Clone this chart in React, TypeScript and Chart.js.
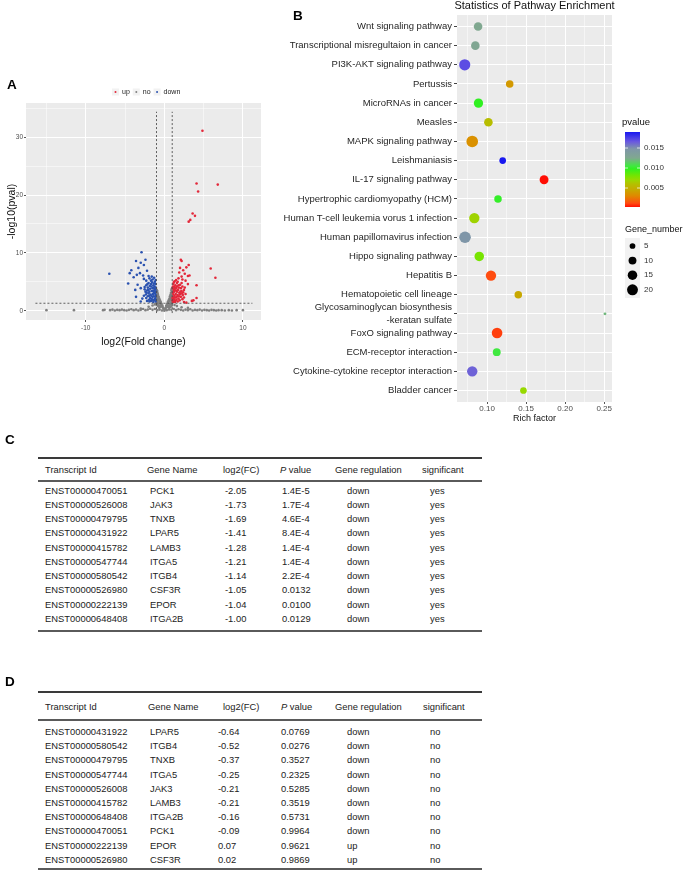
import React, { useEffect, useRef } from 'react';
import { Chart, registerables } from 'chart.js';

Chart.register(...registerables);
const FONT = '"Liberation Sans", Arial, Helvetica, sans-serif';
Chart.defaults.font.family = FONT;

// ---------------- Panel A: volcano plot ----------------
const volcanoGroups = ['up', 'no', 'down'];
const upPoints: [number, number][] = [
  [4.85, 31.1], [4.1, 22.0], [6.8, 21.8], [4.3, 20.6], [3.6, 16.8], [3.9, 16.4], [3.3, 15.7], [3.1, 15.4],
  [5.9, 7.3], [6.5, 5.7], [4.1, 4.4], [2.1, 8.8], [2.2, 8.6], [3.1, 7.9], [2.8, 7.5], [2.0, 7.4], [2.4, 7.0],
  [1.9, 6.6], [2.6, 6.4], [3.0, 6.0], [3.2, 6.1], [2.2, 5.9], [2.7, 5.2], [3.0, 4.6], [4.1, 2.2], [3.7, 1.8],
  [3.5, 1.7], [2.5, 1.5], [2.8, 1.4], [1.1, 1.5], [1.2, 2.0], [1.3, 2.6], [1.1, 3.1], [1.2, 3.6], [1.3, 4.1],
  [1.15, 4.6], [1.4, 1.7], [1.5, 2.3], [1.45, 2.9], [1.6, 3.3], [1.5, 3.9], [1.4, 4.4], [1.6, 4.8], [1.7, 1.6],
  [1.8, 2.1], [1.7, 2.7], [1.9, 3.1], [1.75, 3.6], [1.85, 4.0], [2.0, 4.5], [1.95, 1.8], [2.1, 2.4], [2.0, 2.9],
  [2.2, 3.4], [2.1, 3.9], [2.3, 2.0], [2.35, 2.7], [2.4, 3.2], [2.3, 4.2], [1.25, 1.8], [1.35, 2.3], [1.55, 1.9],
  [1.65, 2.5], [1.25, 3.3], [1.45, 3.5], [1.35, 3.8], [1.6, 4.2], [1.8, 4.4], [1.9, 2.5], [2.05, 3.3], [2.25, 3.0],
  [1.1, 2.4], [1.15, 2.8], [1.2, 4.9], [1.5, 5.3], [1.8, 5.6], [2.3, 5.4], [2.6, 4.0], [2.5, 2.3], [1.05, 1.8],
  [1.08, 3.9], [1.3, 5.1], [1.7, 5.0], [2.5, 3.6], [2.7, 2.9], [2.2, 4.8], [1.05, 2.2], [1.1, 4.2], [1.35, 1.5],
];
const downPoints: [number, number][] = [
  [-2.9, 10.1], [-3.6, 8.6], [-2.4, 8.8], [-3.0, 8.3], [-4.2, 7.0], [-4.4, 6.5], [-7.0, 6.4], [-4.6, 4.7],
  [-3.3, 7.4], [-2.6, 7.9], [-3.5, 6.2], [-3.9, 5.8], [-2.2, 6.9], [-3.1, 6.5], [-2.7, 6.1], [-3.4, 4.5],
  [-3.0, 3.9], [-3.7, 3.6], [-3.6, 2.4], [-3.0, 1.6], [-2.8, 2.1], [-1.1, 1.6], [-1.2, 2.1], [-1.1, 2.7],
  [-1.3, 3.2], [-1.15, 3.7], [-1.25, 4.2], [-1.1, 4.6], [-1.4, 1.8], [-1.5, 2.4], [-1.45, 2.9], [-1.6, 3.4],
  [-1.5, 3.9], [-1.4, 4.4], [-1.55, 4.9], [-1.7, 1.7], [-1.8, 2.2], [-1.75, 2.8], [-1.9, 3.3], [-1.8, 3.8],
  [-1.85, 4.3], [-2.0, 4.8], [-1.95, 1.9], [-2.1, 2.5], [-2.0, 3.0], [-2.2, 3.5], [-2.1, 4.0], [-2.3, 2.2],
  [-2.35, 2.8], [-2.4, 3.3], [-2.3, 4.4], [-1.25, 1.9], [-1.35, 2.5], [-1.6, 2.0], [-1.65, 2.6], [-1.3, 3.5],
  [-1.45, 3.4], [-1.35, 3.9], [-1.65, 4.2], [-1.7, 4.6], [-1.9, 2.6], [-2.05, 3.6], [-2.25, 3.1], [-1.12, 2.4],
  [-1.18, 3.0], [-1.2, 5.0], [-1.5, 5.4], [-1.9, 5.6], [-2.3, 5.2], [-2.5, 4.1], [-2.6, 2.6], [-1.06, 1.9],
  [-1.08, 4.0], [-1.3, 5.7], [-1.7, 5.2], [-2.5, 3.7], [-2.15, 4.6], [-1.4, 1.5], [-1.9, 1.6], [-2.2, 1.7],
  [-2.6, 5.5], [-2.0, 6.0], [-1.05, 3.3], [-1.1, 5.3], [-1.3, 4.7], [-1.6, 5.9],
];
const noPoints: [number, number][] = [
  [-0.98, 3.6], [-0.95, 3.2], [-0.9, 3.4], [-0.92, 2.8], [-0.85, 3.0], [-0.88, 2.5], [-0.8, 2.7], [-0.78, 2.2],
  [-0.72, 2.4], [-0.7, 1.9], [-0.65, 2.1], [-0.62, 1.6], [-0.55, 1.8], [-0.52, 1.3], [-0.45, 1.5], [-0.42, 1.0],
  [-0.35, 1.2], [-0.32, 0.8], [-0.25, 0.9], [-0.2, 0.6], [-0.15, 0.5], [-0.1, 0.3], [-0.96, 2.2], [-0.9, 1.8],
  [-0.97, 1.5], [-0.85, 1.4], [-0.75, 1.2], [-0.6, 0.9], [-0.5, 0.7], [-0.95, 1.0], [-0.8, 0.8], [-0.65, 0.5],
  [0.98, 3.9], [0.95, 3.4], [0.9, 3.6], [0.92, 2.9], [0.85, 3.1], [0.88, 2.5], [0.8, 2.8], [0.78, 2.2],
  [0.72, 2.5], [0.7, 1.9], [0.65, 2.1], [0.62, 1.6], [0.55, 1.8], [0.52, 1.3], [0.45, 1.5], [0.42, 1.0],
  [0.35, 1.2], [0.32, 0.8], [0.25, 0.9], [0.2, 0.6], [0.15, 0.4], [0.1, 0.25], [0.96, 2.1], [0.9, 1.7],
  [0.97, 1.4], [0.85, 1.3], [0.75, 1.1], [0.6, 0.8], [0.5, 0.6], [0.95, 0.9], [0.8, 0.7], [0.65, 0.5],
  [-1.2, 1.1], [-1.5, 0.9], [-2.0, 0.7], [1.3, 1.0], [1.6, 0.8], [2.2, 0.6], [3.0, 0.5], [-3.0, 0.4],
  [-15.0, 0.1], [-11.5, 0.1], [-7.8, 0.1], [-7.6, 0.15], [-6.9, 0.1], [-6.6, 0.2], [-6.3, 0.05], [-6.0, 0.15],
  [-5.7, 0.1], [-5.4, 0.2], [-5.1, 0.1], [-4.8, 0.05], [-4.5, 0.15], [-4.2, 0.25], [-3.9, 0.1], [-3.6, 0.2],
  [-3.3, 0.05], [-3.0, 0.15], [-2.7, 0.3], [-2.4, 0.1], [-2.1, 0.2], [-1.8, 0.35], [-1.5, 0.15], [-1.2, 0.3],
  [-0.9, 0.1], [-0.6, 0.2], [-0.3, 0.05], [0.0, 0.02], [0.3, 0.1], [0.6, 0.2], [0.9, 0.15], [1.2, 0.3],
  [1.5, 0.1], [1.8, 0.25], [2.1, 0.15], [2.4, 0.05], [2.7, 0.2], [3.0, 0.1], [3.3, 0.25], [3.6, 0.05],
  [3.9, 0.15], [4.2, 0.1], [4.5, 0.2], [4.8, 0.05], [5.1, 0.15], [5.4, 0.1], [5.7, 0.05], [6.0, 0.15],
  [6.3, 0.1], [6.6, 0.05], [6.9, 0.1], [7.3, 0.1], [7.7, 0.05], [8.2, 0.1], [8.6, 0.05], [9.2, 0.1], [10.0, 0.1],
];
const volcanoXLabels = [-10, 0, 10];
const volcanoYLabels = [0, 10, 20, 30];
const log2FcCutoffs = [-1, 1];
const pvalCutoff = 1.3;
const cutoffLineYSpan = [-0.4, 34.4];
const cutoffLineXSpan = [-16.4, 11.2];

// ---------------- Panel B: pathway enrichment ----------------
const pathways: (string | string[])[] = [
  'Wnt signaling pathway',
  'Transcriptional misregultaion in cancer',
  'PI3K-AKT signaling pathway',
  'Pertussis',
  'MicroRNAs in cancer',
  'Measles',
  'MAPK signaling pathway',
  'Leishmaniasis',
  'IL-17 signaling pathway',
  'Hypertrophic cardiomyopathy (HCM)',
  'Human T-cell leukemia vorus 1 infection',
  'Human papillomavirus infection',
  'Hippo signaling pathway',
  'Hepatitis B',
  'Hematopoietic cell lineage',
  ['Glycosaminoglycan biosynthesis', '-keratan sulfate'],
  'FoxO signaling pathway',
  'ECM-receptor interaction',
  'Cytokine-cytokine receptor interaction',
  'Bladder cancer',
];
const richFactor = [0.0885, 0.085, 0.0714, 0.129, 0.089, 0.1017, 0.081, 0.120, 0.173, 0.114,
  0.0837, 0.0718, 0.090, 0.105, 0.140, 0.251, 0.1128, 0.1124, 0.081, 0.1466];
const pValues = [0.0125, 0.0127, 0.0170, 0.0038, 0.0098, 0.0058, 0.0034, 0.0190, 0.0002, 0.0100,
  0.0068, 0.0148, 0.0080, 0.0012, 0.0045, 0.0120, 0.0010, 0.0105, 0.0163, 0.0071];
const geneNumbers = [12, 12, 21, 9, 14, 12, 23, 7, 13, 9, 18, 23, 15, 18, 9, 1, 19, 10, 18, 7];
const richFactorLabels = [0.10, 0.15, 0.20, 0.25];
const pvalueLegendLabels = [0.005, 0.010, 0.015];
const geneNumberLegend = [5, 10, 15, 20];

// ---------------- Panels C & D: tables ----------------
const tableHeaders = ['Transcript Id', 'Gene Name', 'log2(FC)', 'P value', 'Gene regulation', 'significant'];
const cTranscripts = ['ENST00000470051', 'ENST00000526008', 'ENST00000479795', 'ENST00000431922', 'ENST00000415782',
  'ENST00000547744', 'ENST00000580542', 'ENST00000526980', 'ENST00000222139', 'ENST00000648408'];
const cGenes = ['PCK1', 'JAK3', 'TNXB', 'LPAR5', 'LAMB3', 'ITGA5', 'ITGB4', 'CSF3R', 'EPOR', 'ITGA2B'];
const cLog2FC = ['-2.05', '-1.73', '-1.69', '-1.41', '-1.28', '-1.21', '-1.14', '-1.05', '-1.04', '-1.00'];
const cPValue = ['1.4E-5', '1.7E-4', '4.6E-4', '8.4E-4', '1.4E-4', '1.4E-4', '2.2E-4', '0.0132', '0.0100', '0.0129'];
const cRegulation = ['down', 'down', 'down', 'down', 'down', 'down', 'down', 'down', 'down', 'down'];
const cSignificant = ['yes', 'yes', 'yes', 'yes', 'yes', 'yes', 'yes', 'yes', 'yes', 'yes'];

const dTranscripts = ['ENST00000431922', 'ENST00000580542', 'ENST00000479795', 'ENST00000547744', 'ENST00000526008',
  'ENST00000415782', 'ENST00000648408', 'ENST00000470051', 'ENST00000222139', 'ENST00000526980'];
const dGenes = ['LPAR5', 'ITGB4', 'TNXB', 'ITGA5', 'JAK3', 'LAMB3', 'ITGA2B', 'PCK1', 'EPOR', 'CSF3R'];
const dLog2FC = ['-0.64', '-0.52', '-0.37', '-0.25', '-0.21', '-0.21', '-0.16', '-0.09', '0.07', '0.02'];
const dPValue = ['0.0769', '0.0276', '0.3527', '0.2325', '0.5285', '0.3519', '0.5731', '0.9964', '0.9621', '0.9869'];
const dRegulation = ['down', 'down', 'down', 'down', 'down', 'down', 'down', 'down', 'up', 'up'];
const dSignificant = ['no', 'no', 'no', 'no', 'no', 'no', 'no', 'no', 'no', 'no'];

// ---------------- styling helpers ----------------
const groupColors: Record<string, string> = { up: '#e3283a', no: '#808080', down: '#2a52b0' };
const pStops = [0, 0.0012, 0.0030, 0.0045, 0.0060, 0.0070, 0.0080, 0.0098, 0.0105, 0.0125, 0.0148, 0.0166, 0.0190];
const pColors = ['#ff0000', '#ff4c10', '#e08800', '#c8a800', '#b4c000', '#9ad800', '#77e400', '#30f020',
  '#40e840', '#80a890', '#7f96a8', '#6a58e0', '#1818f0'];
const hexRgb = (h: string) => [parseInt(h.slice(1, 3), 16), parseInt(h.slice(3, 5), 16), parseInt(h.slice(5, 7), 16)];
function pColor(p: number): string {
  if (p <= pStops[0]) return pColors[0];
  for (let i = 1; i < pStops.length; i++) {
    if (p <= pStops[i]) {
      const t = (p - pStops[i - 1]) / (pStops[i] - pStops[i - 1]);
      const a = hexRgb(pColors[i - 1]);
      const b = hexRgb(pColors[i]);
      return `rgb(${a.map((v, k) => Math.round(v + (b[k] - v) * t)).join(',')})`;
    }
  }
  return pColors[pColors.length - 1];
}
const sizeOf = (n: number) => 1.15 * Math.sqrt(n) + 0.3;
const panelBg = {
  id: 'panelBg',
  beforeDraw(chart: any) {
    const { ctx, chartArea: a } = chart;
    ctx.save();
    ctx.fillStyle = '#ebebeb';
    ctx.fillRect(a.left, a.top, a.right - a.left, a.bottom - a.top);
    ctx.restore();
  },
};

function VolcanoChart() {
  const ref = useRef<HTMLCanvasElement>(null);
  useEffect(() => {
    const toXY = (pts: [number, number][]) => pts.map(([x, y]) => ({ x, y }));
    const lineStyle = {
      showLine: true, pointRadius: 0, borderColor: '#505050', borderWidth: 0.9, borderDash: [2, 2],
      backgroundColor: 'transparent',
    };
    const pts = (color: string) => ({ pointRadius: 1.3, pointBorderWidth: 0, backgroundColor: color, borderColor: color });
    const legendPlugin = {
      id: 'volcanoLegend',
      afterDraw(chart: any) {
        const ctx = chart.ctx;
        ctx.save();
        ctx.font = `7px ${FONT}`;
        ctx.textBaseline = 'middle';
        let x = 112;
        const y = 32;
        volcanoGroups.forEach((g) => {
          ctx.fillStyle = '#f2f2f2';
          ctx.fillRect(x, y - 3.5, 7, 7);
          ctx.fillStyle = groupColors[g];
          ctx.beginPath();
          ctx.arc(x + 3.5, y, 1, 0, Math.PI * 2);
          ctx.fill();
          ctx.fillStyle = '#1a1a1a';
          ctx.fillText(g, x + 10, y);
          x += 10 + ctx.measureText(g).width + 3;
        });
        ctx.restore();
      },
    };
    const chart = new Chart(ref.current!, {
      type: 'scatter',
      data: {
        datasets: [
          ...log2FcCutoffs.map((fc) => ({
            ...lineStyle, label: 'fc' + fc,
            data: [{ x: fc, y: cutoffLineYSpan[0] }, { x: fc, y: cutoffLineYSpan[1] }],
          })),
          { ...lineStyle, label: 'pval', data: [{ x: cutoffLineXSpan[0], y: pvalCutoff }, { x: cutoffLineXSpan[1], y: pvalCutoff }] },
          { label: 'up', data: toXY(upPoints), ...pts(groupColors.up) },
          { label: 'down', data: toXY(downPoints), ...pts(groupColors.down) },
          { label: 'no', data: toXY(noPoints), ...pts(groupColors.no) },
        ] as any,
      },
      options: {
        responsive: false,
        animation: false,
        layout: { padding: { left: 0, top: 43, right: 3, bottom: 0 } },
        plugins: { legend: { display: false }, tooltip: { enabled: false } },
        scales: {
          x: {
            type: 'linear', min: -17.6, max: 12.3,
            border: { display: false },
            ticks: {
              stepSize: 5, includeBounds: false, autoSkip: false, maxRotation: 0,
              callback: (v: any) => (volcanoXLabels.includes(v) ? String(v) : ''),
              font: { size: 6.5 }, color: '#4d4d4d', padding: 2,
            },
            grid: {
              color: '#ffffff',
              lineWidth: (c: any) => (volcanoXLabels.includes(c.tick?.value) ? 1 : 0.5),
              tickLength: 2,
              tickColor: (c: any) => (volcanoXLabels.includes(c.tick?.value) ? '#555' : 'rgba(0,0,0,0)'),
            },
            title: { display: true, text: 'log2(Fold change)', font: { size: 10.5 }, color: '#111', padding: { top: 0, bottom: 12 } },
            afterFit: (s: any) => { s.height = 40; },
          },
          y: {
            type: 'linear', min: -1.6, max: 35.9,
            border: { display: false },
            ticks: {
              stepSize: 5, includeBounds: false, autoSkip: false,
              callback: (v: any) => (volcanoYLabels.includes(v) ? String(v) : ''),
              font: { size: 6.5 }, color: '#4d4d4d', padding: 1,
            },
            grid: {
              color: '#ffffff',
              lineWidth: (c: any) => (volcanoYLabels.includes(c.tick?.value) ? 1 : 0.5),
              tickLength: 2,
              tickColor: (c: any) => (volcanoYLabels.includes(c.tick?.value) ? '#555' : 'rgba(0,0,0,0)'),
            },
            title: { display: true, text: '-log10(pval)', font: { size: 10.5 }, color: '#111', padding: { top: 6, bottom: 0 } },
            afterFit: (s: any) => { s.width = 26; },
          },
        },
      } as any,
      plugins: [panelBg, legendPlugin],
    });
    return () => chart.destroy();
  }, []);
  return <canvas ref={ref} width={265} height={300} style={{ position: 'absolute', left: 0, top: 60 }} />;
}

function EnrichmentChart() {
  const ref = useRef<HTMLCanvasElement>(null);
  useEffect(() => {
    const isMajor = (v: number) => richFactorLabels.some((t) => Math.abs(t - v) < 1e-9);
    const barTop = 132, barBottom = 207, barPMin = 0.00025, barPMax = 0.019;
    const barY = (p: number) => barBottom - ((p - barPMin) / (barPMax - barPMin)) * (barBottom - barTop);
    const extras = {
      id: 'enrichExtras',
      afterDraw(chart: any) {
        const { ctx, chartArea: a } = chart;
        ctx.save();
        // title
        ctx.fillStyle = '#111';
        ctx.font = `11px ${FONT}`;
        ctx.textAlign = 'center';
        ctx.textBaseline = 'middle';
        ctx.fillText('Statistics of Pathway Enrichment', (a.left + a.right) / 2, 6);
        // colour bar legend
        ctx.textAlign = 'left';
        ctx.font = `9.5px ${FONT}`;
        ctx.fillText('pvalue', 382, 122);
        const bx = 385, bw = 15;
        const g = ctx.createLinearGradient(0, barBottom, 0, barTop);
        pStops.forEach((p, i) => {
          const t = (p - barPMin) / (barPMax - barPMin);
          if (t >= 0 && t <= 1) g.addColorStop(t, pColors[i]);
        });
        g.addColorStop(0, pColor(barPMin));
        g.addColorStop(1, pColor(barPMax));
        ctx.fillStyle = g;
        ctx.fillRect(bx, barTop, bw, barBottom - barTop);
        ctx.font = `8px ${FONT}`;
        pvalueLegendLabels.forEach((p) => {
          const y = barY(p);
          ctx.strokeStyle = 'rgba(255,255,255,0.9)';
          ctx.lineWidth = 0.8;
          ctx.beginPath();
          ctx.moveTo(bx, y); ctx.lineTo(bx + 3, y);
          ctx.moveTo(bx + bw - 3, y); ctx.lineTo(bx + bw, y);
          ctx.stroke();
          ctx.fillStyle = '#333';
          ctx.fillText(p.toFixed(3), 404, y);
        });
        // size legend
        ctx.fillStyle = '#111';
        ctx.font = `9px ${FONT}`;
        ctx.fillText('Gene_number', 385, 230);
        ctx.fillStyle = '#f2f2f2';
        ctx.fillRect(385, 238, 15, 60);
        geneNumberLegend.forEach((n, i) => {
          const y = 246 + i * 14.6;
          ctx.fillStyle = '#000';
          ctx.beginPath();
          ctx.arc(392.5, y, sizeOf(n), 0, Math.PI * 2);
          ctx.fill();
          ctx.fillStyle = '#333';
          ctx.font = `8px ${FONT}`;
          ctx.fillText(String(n), 404, y);
        });
        ctx.restore();
      },
    };
    const chart = new Chart(ref.current!, {
      type: 'scatter',
      data: {
        datasets: [{
          label: 'pathways',
          data: richFactor.map((x, i) => ({ x, y: i })),
          pointRadius: (c: any) => sizeOf(geneNumbers[c.dataIndex]),
          pointBackgroundColor: (c: any) => pColor(pValues[c.dataIndex]),
          pointBorderWidth: 0,
        }] as any,
      },
      options: {
        responsive: false,
        animation: false,
        layout: { padding: { left: 0, top: 15, right: 73, bottom: 0 } },
        plugins: { legend: { display: false }, tooltip: { enabled: false } },
        scales: {
          x: {
            type: 'linear', min: 0.0615, max: 0.26,
            border: { display: false },
            ticks: {
              stepSize: 0.025, includeBounds: false, autoSkip: false, maxRotation: 0,
              callback: (v: any) => (isMajor(v) ? Number(v).toFixed(2) : ''),
              font: { size: 8 }, color: '#4d4d4d', padding: 0,
            },
            grid: {
              color: '#ffffff',
              lineWidth: (c: any) => (isMajor(c.tick?.value) ? 1 : 0.5),
              tickLength: 2,
              tickColor: (c: any) => (isMajor(c.tick?.value) ? '#555' : 'rgba(0,0,0,0)'),
            },
            title: { display: true, text: 'Rich factor', font: { size: 9 }, color: '#111', padding: { top: 0, bottom: 6 } },
            afterFit: (s: any) => { s.height = 28; },
          },
          y: {
            type: 'linear', min: -0.6, max: pathways.length - 0.4, reverse: true,
            border: { display: false },
            ticks: {
              stepSize: 1, includeBounds: false, autoSkip: false,
              callback: (v: any) => pathways[v as number] ?? '',
              font: { size: 9.5, lineHeight: 1.3 }, color: '#262626', padding: 2,
            },
            grid: { color: '#ffffff', lineWidth: 1, tickLength: 3, tickColor: '#444' },
            afterFit: (s: any) => { s.width = 217; },
          },
        },
      } as any,
      plugins: [panelBg, extras],
    });
    return () => chart.destroy();
  }, []);
  return <canvas ref={ref} width={445} height={430} style={{ position: 'absolute', left: 240, top: 0 }} />;
}

type TableGeom = {
  topLine: number; headerY: number; midLine: number; firstRow: number; rowStep: number; bottomLine: number;
  headerX: number[]; valueX: number[];
};

function DataTable({ geom, columns }: { geom: TableGeom; columns: string[][] }) {
  const text: React.CSSProperties = {
    position: 'absolute', fontFamily: FONT, fontSize: 9.4, lineHeight: '12px', height: 12,
    color: '#222', whiteSpace: 'nowrap',
  };
  const line = (y: number, h: number, c: string) => (
    <div style={{ position: 'absolute', left: 38, width: 444, top: y - h / 2, height: h, background: c }} />
  );
  return (
    <>
      {line(geom.topLine, 2, '#3a3a3a')}
      {line(geom.midLine, 1.6, '#5a5a5a')}
      {line(geom.bottomLine, 1.6, '#5a5a5a')}
      {tableHeaders.map((h, i) => (
        <div key={'h' + i} style={{ ...text, left: geom.headerX[i], top: geom.headerY - 6 }}>
          {h === 'P value' ? (<><i>P</i> value</>) : h}
        </div>
      ))}
      {columns.map((col, ci) =>
        col.map((v, ri) => (
          <div key={ci + '-' + ri} style={{ ...text, left: geom.valueX[ci], top: geom.firstRow + ri * geom.rowStep - 6 }}>
            {v}
          </div>
        )),
      )}
    </>
  );
}

const cGeom: TableGeom = {
  topLine: 458, headerY: 470, midLine: 481, firstRow: 490.6, rowStep: 14.27, bottomLine: 631,
  headerX: [45, 147, 223, 280, 335, 422], valueX: [45, 150, 225, 282, 347, 430],
};
const dGeom: TableGeom = {
  topLine: 692, headerY: 707, midLine: 720, firstRow: 732, rowStep: 14.2, bottomLine: 869,
  headerX: [45, 148, 223, 281, 335, 423], valueX: [45, 150, 218, 281, 347, 430],
};

const panelLabel = (t: string, x: number, y: number) => (
  <div style={{
    position: 'absolute', left: x, top: y - 8, fontFamily: FONT, fontWeight: 'bold', fontSize: 13.5,
    lineHeight: '16px', color: '#000',
  }}>{t}</div>
);

export default function App() {
  return (
    <div style={{ position: 'fixed', left: 0, top: 0, width: 685, height: 873, background: '#fff', overflow: 'hidden' }}>
      <VolcanoChart />
      <EnrichmentChart />
      {panelLabel('A', 7, 85)}
      {panelLabel('B', 293, 16)}
      {panelLabel('C', 5, 440)}
      {panelLabel('D', 5, 682)}
      <DataTable geom={cGeom} columns={[cTranscripts, cGenes, cLog2FC, cPValue, cRegulation, cSignificant]} />
      <DataTable geom={dGeom} columns={[dTranscripts, dGenes, dLog2FC, dPValue, dRegulation, dSignificant]} />
    </div>
  );
}
